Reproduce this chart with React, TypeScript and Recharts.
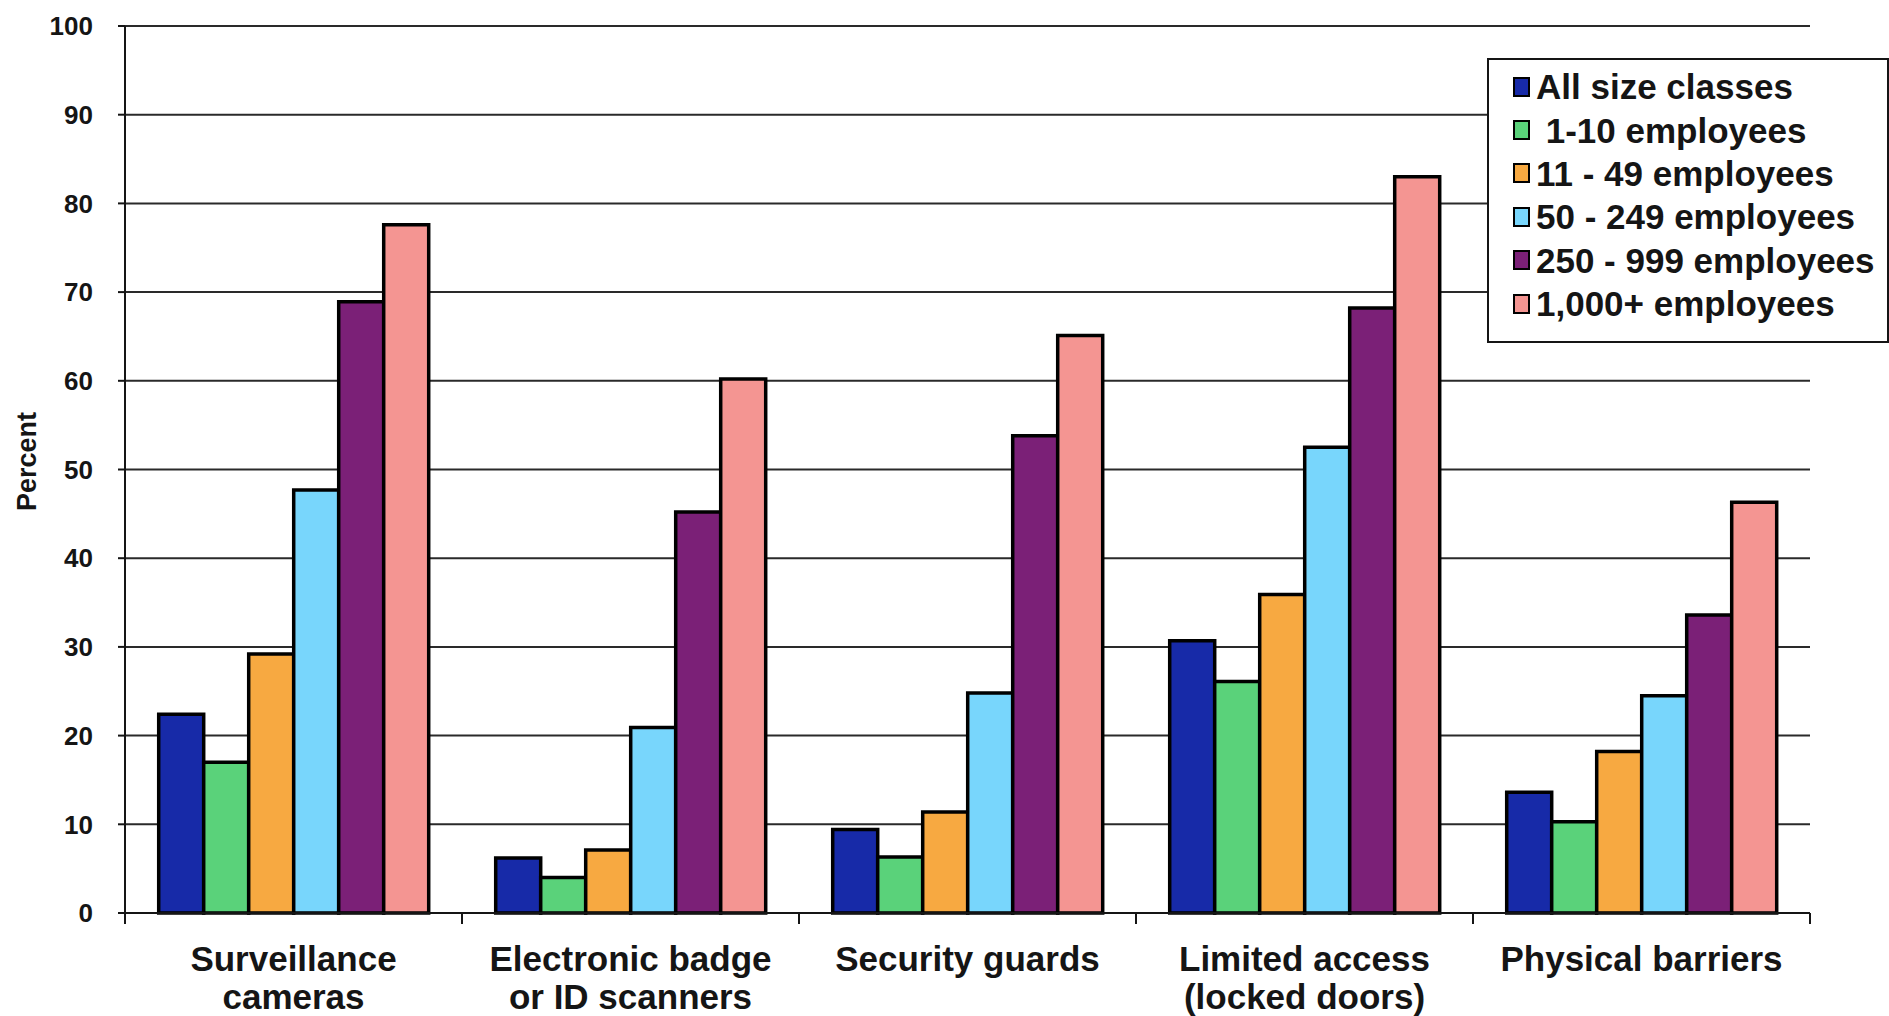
import React from 'react'
import {
  BarChart,
  Bar,
  XAxis,
  YAxis,
  CartesianGrid,
  Legend,
} from 'recharts'

const categories = [
  ['Surveillance', 'cameras'],
  ['Electronic badge', 'or ID scanners'],
  ['Security guards'],
  ['Limited access', '(locked doors)'],
  ['Physical barriers'],
]

const allSizes = [22.4, 6.2, 9.4, 30.7, 13.6]
const emp1to10 = [17.0, 4.0, 6.3, 26.1, 10.3]
const emp11to49 = [29.2, 7.1, 11.4, 35.9, 18.2]
const emp50to249 = [47.7, 20.9, 24.8, 52.5, 24.5]
const emp250to999 = [68.9, 45.2, 53.8, 68.2, 33.6]
const emp1000plus = [77.6, 60.2, 65.1, 83.0, 46.3]

const yTicks = [0, 10, 20, 30, 40, 50, 60, 70, 80, 90, 100]

const series = [
  { key: 'all', name: 'All size classes', color: '#172aa8', values: allSizes },
  { key: 'e1', name: ' 1-10 employees', color: '#5ad27a', values: emp1to10 },
  { key: 'e11', name: '11 - 49 employees', color: '#f7a941', values: emp11to49 },
  { key: 'e50', name: '50 - 249 employees', color: '#78d6fc', values: emp50to249 },
  { key: 'e250', name: '250 - 999 employees', color: '#7b2077', values: emp250to999 },
  { key: 'e1000', name: '1,000+ employees', color: '#f49592', values: emp1000plus },
]

const data = categories.map((lines, i) => {
  const row: Record<string, any> = { name: lines.join(' '), lines }
  series.forEach((s) => {
    row[s.key] = s.values[i]
  })
  return row
})

const FONT = '"Liberation Sans", Arial, sans-serif'
const INK = '#151515'

// category label plus the boundary tick marks on either side of the band
function CategoryTick(props: any) {
  const { x, y, payload, index, visibleTicksCount } = props
  const half = payload.offset || 0
  const lines: string[] = data[index]?.lines || [payload.value]
  const isLast = index === visibleTicksCount - 1
  return (
    <g>
      <line x1={x - half} x2={x - half} y1={y} y2={y + 11} stroke={INK} strokeWidth={2} />
      {isLast && (
        <line x1={x + half} x2={x + half} y1={y} y2={y + 11} stroke={INK} strokeWidth={2} />
      )}
      {lines.map((t, i) => (
        <text
          key={t}
          x={x}
          y={y + 58 + i * 38}
          textAnchor="middle"
          fontFamily={FONT}
          fontWeight={700}
          fontSize={35}
          fill={INK}
        >
          {t}
        </text>
      ))}
    </g>
  )
}

function PercentLabel(props: any) {
  const { viewBox } = props
  const cx = viewBox.x + 27
  const cy = viewBox.y + viewBox.height / 2 - 8
  return (
    <text
      x={cx}
      y={cy}
      transform={`rotate(-90 ${cx} ${cy})`}
      textAnchor="middle"
      dominantBaseline="central"
      fontFamily={FONT}
      fontWeight={700}
      fontSize={27}
      fill={INK}
    >
      Percent
    </text>
  )
}

// keep legend rows in series order (Recharts sorts by name otherwise)
const seriesOrder = (entry: any) => series.findIndex((s) => s.key === entry.dataKey)

function LegendBox({ payload }: any) {
  const items = [...(payload || [])].sort((a, b) => seriesOrder(a) - seriesOrder(b))
  return (
    <div
      style={{
        boxSizing: 'border-box',
        width: 402,
        height: 285,
        border: `2px solid ${INK}`,
        background: '#fff',
        padding: '5px 0 0 24px',
        fontFamily: FONT,
      }}
    >
      {items.map((entry: any) => (
        <div
          key={entry.dataKey}
          style={{ display: 'flex', alignItems: 'center', height: 43.4 }}
        >
          <span
            style={{
              display: 'inline-block',
              width: 13,
              height: 16,
              background: entry.color,
              border: '2px solid #000',
              marginRight: 6,
            }}
          />
          <span
            style={{
              fontSize: 35,
              fontWeight: 700,
              color: INK,
              whiteSpace: 'pre',
              lineHeight: 1,
            }}
          >
            {entry.value}
          </span>
        </div>
      ))}
    </div>
  )
}

export default function App() {
  return (
    <div
      style={{
        position: 'absolute',
        left: 0,
        top: 0,
        width: 1889,
        height: 1016,
        overflow: 'hidden',
        background: '#fff',
      }}
    >
      <BarChart
        width={1889}
        height={1016}
        data={data}
        margin={{ top: 26, right: 79, bottom: 0, left: 0 }}
        barCategoryGap="10%"
        barGap={0}
      >
        <CartesianGrid vertical={false} stroke="#2a2a2a" strokeWidth={2} />
        <XAxis
          dataKey="name"
          interval={0}
          height={103}
          tickLine={false}
          tickSize={0}
          tickMargin={0}
          axisLine={{ stroke: INK, strokeWidth: 2 }}
          tick={<CategoryTick />}
        />
        <YAxis
          width={125}
          domain={[0, 100]}
          ticks={yTicks}
          interval={0}
          tickSize={7}
          tickMargin={25}
          axisLine={{ stroke: INK, strokeWidth: 2 }}
          tickLine={{ stroke: INK, strokeWidth: 2 }}
          tick={{ fontFamily: FONT, fontWeight: 700, fontSize: 26, fill: INK }}
          label={<PercentLabel />}
        />
        <Legend
          layout="vertical"
          align="center"
          verticalAlign="middle"
          content={<LegendBox />}
          wrapperStyle={{ left: 1487, top: 58, width: 402, height: 285 }}
        />
        {series.map((s) => (
          <Bar
            key={s.key}
            dataKey={s.key}
            name={s.name}
            fill={s.color}
            stroke="#000"
            strokeWidth={3.5}
            isAnimationActive={false}
          />
        ))}
      </BarChart>
    </div>
  )
}
